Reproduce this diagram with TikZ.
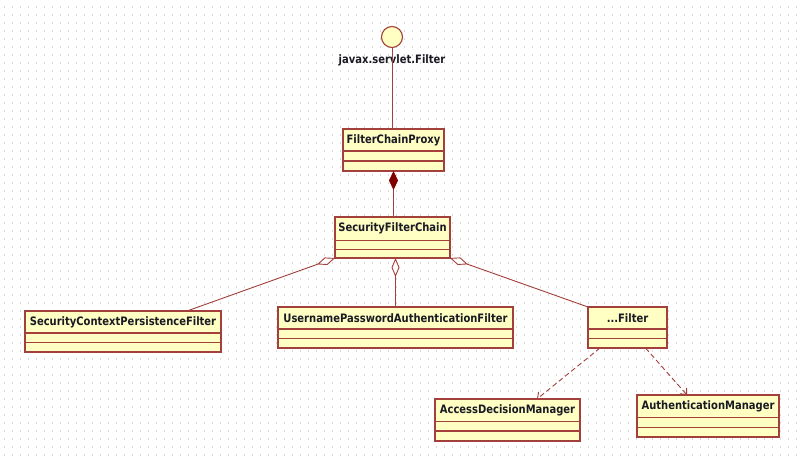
\documentclass[tikz,border=0pt]{standalone}
\usepackage{fontspec}
\setmainfont{DejaVu Sans}[FakeStretch=0.86]
\usetikzlibrary{arrows.meta,calc}
\definecolor{clsfill}{HTML}{FFFFC4}
\definecolor{clsline}{HTML}{A3403B}
\definecolor{compfill}{HTML}{800000}
\definecolor{griddot}{HTML}{DADADA}
\definecolor{txt}{HTML}{1A1A24}
\newcommand{\umlcls}[8]{%
  \node[clsbox, anchor=north west, minimum width={(#4-#2)*1pt}, minimum height={(#5-#3)*1pt}] (#1) at (#2,#3) {};
  \node[clstext] at ({(#2+#4)/2},{(#3+#6)/2}) {#8};
  \draw[clsedge] (#2,#6) -- (#4,#6);
  \draw[clsedge] (#2,#7) -- (#4,#7);
}
\tikzset{
  clsbox/.style={draw=clsline, fill=clsfill, line width=1.1pt, inner sep=0pt, outer sep=0pt},
  clsedge/.style={draw=clsline, line width=1.1pt},
  clstext/.style={font=\fontsize{11.6}{13}\selectfont\bfseries, text=txt, inner sep=0pt},
  conn/.style={draw=clsline, line width=0.9pt},
  dep/.style={conn, dash pattern=on 5pt off 3pt, -{Straight Barb[length=5pt,width=9pt]}},
}
\begin{document}
\begin{tikzpicture}[x=1pt,y=-1pt]
\useasboundingbox (0,0) rectangle (801,462);
\fill[white] (0,0) rectangle (801,462);
% dot grid
\foreach \yy in {7,15,...,462} {
  \draw[griddot, line width=1.1pt, dash pattern=on 1.1pt off 6.9pt] (4,\yy) -- (801,\yy);
}
% interface
\node[circle, draw=clsline, fill=clsfill, line width=1.1pt, minimum size=21pt, inner sep=0pt] (ifc) at (392,37) {};
\node[clstext] (ifclabel) at (392,60) {javax.servlet.Filter};
% classes
\umlcls{fcp}{343}{129}{444}{171}{151}{161}{FilterChainProxy}
\umlcls{sfc}{335}{217}{450}{258}{240.5}{249.5}{SecurityFilterChain}
\umlcls{scp}{25}{311}{221}{352}{333}{342.5}{SecurityContextPersistenceFilter}
\umlcls{upaf}{278}{307}{513}{348}{329}{338.5}{UsernamePasswordAuthenticationFilter}
\umlcls{flt}{588}{307}{667}{348}{329}{338.5}{...Filter}
\umlcls{adm}{435}{399}{580}{441}{421.5}{431}{AccessDecisionManager}
\umlcls{am}{637}{395}{779}{437}{417.5}{427.5}{AuthenticationManager}
% interface realization line
\draw[conn] (ifc.south) -- (ifc.south |- fcp.north);
% composition
\draw[conn, {Diamond[length=19pt,width=9pt,fill=compfill,color=compfill]}-] (fcp.south) -- (fcp.south |- sfc.north);
% aggregations
\draw[conn, {Diamond[open,length=19pt,width=8pt,fill=white]}-] (sfc.south west) -- ([xshift=64pt]scp.north);
\draw[conn, {Diamond[open,length=19pt,width=8pt,fill=white]}-] (upaf.north |- sfc.south) -- (upaf.north);
\draw[conn, {Diamond[open,length=19pt,width=8pt,fill=white]}-] (sfc.south east) -- (flt.north west);
% dependencies
\draw[dep] ([xshift=-27.5pt]flt.south) -- ([xshift=29.5pt]adm.north);
\draw[dep] ([xshift=18pt]flt.south) -- ([xshift=-21pt]am.north);
\end{tikzpicture}
\end{document}
